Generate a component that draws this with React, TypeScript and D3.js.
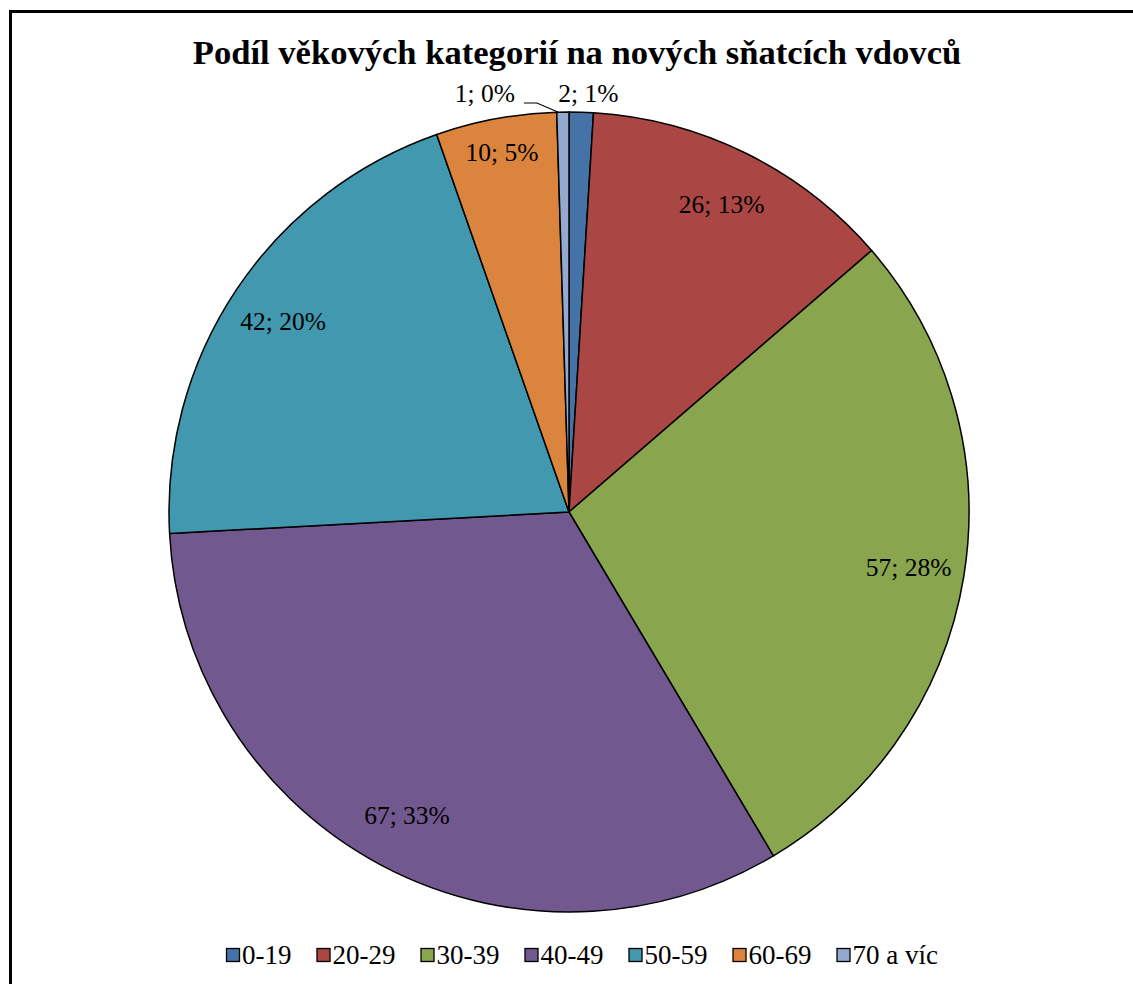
import { useEffect, useRef } from 'react';
import * as d3 from 'd3';

const TITLE = 'Podíl věkových kategorií na nových sňatcích vdovců';
const CATEGORIES = ['0-19', '20-29', '30-39', '40-49', '50-59', '60-69', '70 a víc'];
const COUNTS = [2, 26, 57, 67, 42, 10, 1];
const COLORS = ['#4572A7', '#AA4643', '#89A54E', '#71588F', '#4198AF', '#DB843D', '#93A9CF'];

const FONT = '"Liberation Serif", "Times New Roman", serif';

export default function App() {
  const svgRef = useRef<SVGSVGElement>(null);

  useEffect(() => {
    if (!svgRef.current) return;
    const width = 1133;
    const height = 984;
    const cx = 569;
    const cy = 512;
    const radius = 400;

    const svg = d3.select(svgRef.current);
    svg.selectAll('*').remove();
    svg.attr('width', width).attr('height', height);

    svg.append('rect').attr('width', width).attr('height', height).attr('fill', '#fff');

    // chart frame (only left and top edges are visible in the crop)
    svg.append('path')
      .attr('d', `M10.5,${height + 5} L10.5,11.5 L${width + 5},11.5`)
      .attr('fill', 'none')
      .attr('stroke', '#000')
      .attr('stroke-width', 3);

    svg.append('text')
      .attr('x', 577)
      .attr('y', 64)
      .attr('text-anchor', 'middle')
      .attr('font-family', FONT)
      .attr('font-weight', 'bold')
      .attr('font-size', 34.6)
      .text(TITLE);

    const data = CATEGORIES.map((c, i) => ({ category: c, count: COUNTS[i], color: COLORS[i] }));
    const total = d3.sum(COUNTS);

    const pie = d3.pie<typeof data[number]>()
      .value(d => d.count)
      .sort(null)
      .startAngle(0)
      .endAngle(Math.PI * 2);

    const arcs = pie(data);
    const arc = d3.arc<d3.PieArcDatum<typeof data[number]>>()
      .innerRadius(0)
      .outerRadius(radius);

    const g = svg.append('g').attr('transform', `translate(${cx},${cy})`);

    g.selectAll('path.slice')
      .data(arcs)
      .enter()
      .append('path')
      .attr('class', 'slice')
      .attr('d', arc)
      .attr('fill', d => d.data.color)
      .attr('stroke', '#000')
      .attr('stroke-width', 1.5)
      .attr('stroke-linejoin', 'round');

    const label = (d: d3.PieArcDatum<typeof data[number]>) =>
      `${d.data.count}; ${Math.round((d.data.count / total) * 100)}%`;

    const polar = (a: number, r: number) => [Math.sin(a) * r, -Math.cos(a) * r];

    arcs.forEach(d => {
      const span = d.endAngle - d.startAngle;
      const mid = (d.startAngle + d.endAngle) / 2;
      if (span > 0.3) {
        const r = span < 0.4 ? radius * 0.915 : radius * 0.86;
        const [x, y] = polar(mid, r);
        g.append('text')
          .attr('x', x)
          .attr('y', y)
          .attr('dy', '0.35em')
          .attr('text-anchor', 'middle')
          .attr('font-family', FONT)
          .attr('font-size', 25.5)
          .text(label(d));
      } else if (mid < Math.PI) {
        // tiny slice right of top: label just outside
        const [x] = polar(mid, radius);
        g.append('text')
          .attr('x', x + 7)
          .attr('y', -radius - 10)
          .attr('text-anchor', 'middle')
          .attr('font-family', FONT)
          .attr('font-size', 25.5)
          .text(label(d));
      } else {
        // tiny slice left of top: label with leader line
        const [x, y] = polar(mid, radius);
        const lx = x - 78;
        const ly = -radius - 9;
        g.append('path')
          .attr('d', `M${lx + 39},${ly} L${lx + 52},${ly} L${x - 5},${y}`)
          .attr('fill', 'none')
          .attr('stroke', '#000')
          .attr('stroke-width', 1.2);
        g.append('text')
          .attr('x', lx)
          .attr('y', ly - 1)
          .attr('text-anchor', 'middle')
          .attr('font-family', FONT)
          .attr('font-size', 25.5)
          .text(label(d));
      }
    });

    // legend
    const legend = svg.append('g');
    const box = 13;
    const boxGap = 3;
    const itemGap = 25;
    let xPos = 0;
    data.forEach(d => {
      const item = legend.append('g').attr('transform', `translate(${xPos},0)`);
      item.append('rect')
        .attr('x', 0.5)
        .attr('y', -box / 2)
        .attr('width', box)
        .attr('height', box)
        .attr('fill', d.color)
        .attr('stroke', '#000')
        .attr('stroke-width', 1.3);
      const t = item.append('text')
        .attr('x', box + boxGap)
        .attr('y', 0)
        .attr('dy', '0.35em')
        .attr('font-family', FONT)
        .attr('font-size', 27)
        .text(d.category);
      const w = (t.node() as SVGTextElement).getComputedTextLength();
      xPos += box + boxGap + w + itemGap;
    });
    const legendWidth = xPos - itemGap;
    legend.attr('transform', `translate(${582 - legendWidth / 2},955)`);
  }, []);

  return (
    <div style={{ position: 'absolute', left: 0, top: 0 }}>
      <svg ref={svgRef} style={{ display: 'block' }}></svg>
    </div>
  );
}
